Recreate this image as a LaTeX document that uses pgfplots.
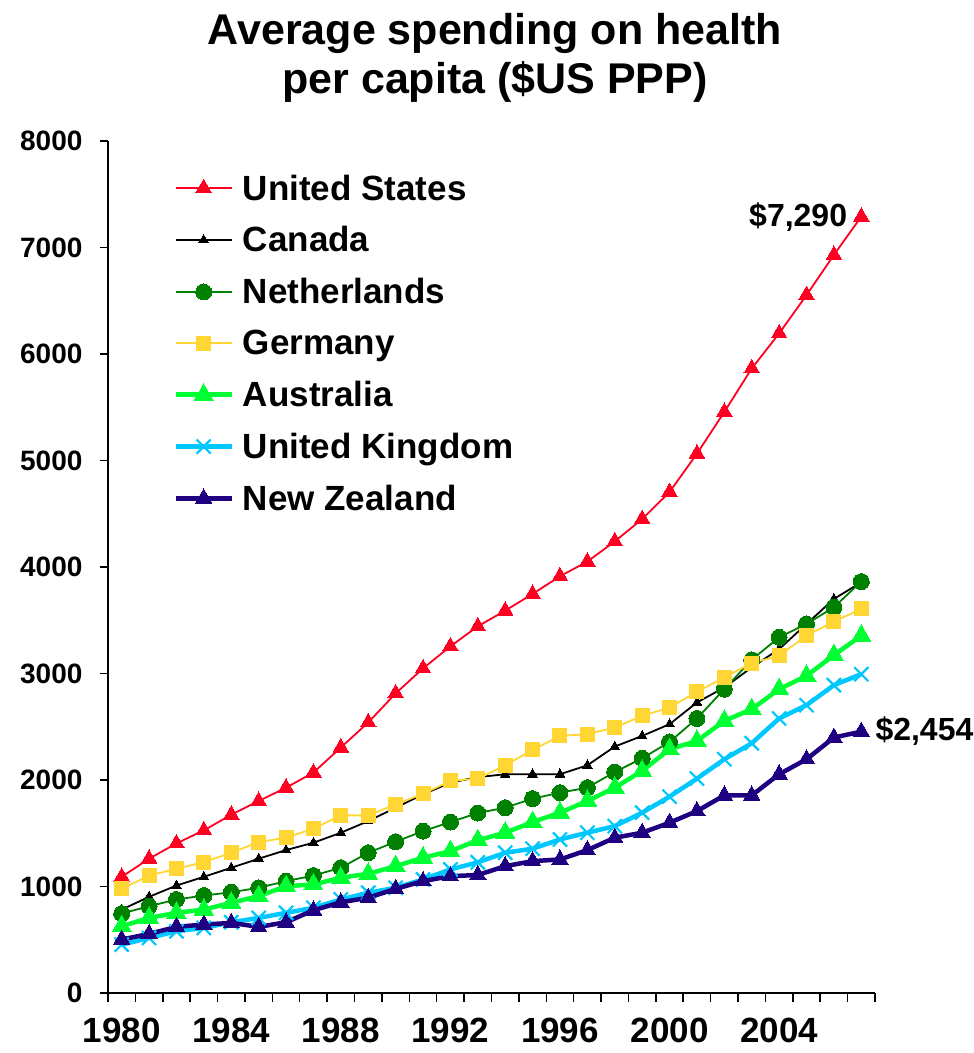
\documentclass[border=0pt]{standalone}
\usepackage{fontspec}
\setmainfont{Liberation Sans}
\usepackage{pgfplots}
\usepackage{pgfplotstable}
\pgfplotsset{compat=1.18}
\definecolor{usred}{RGB}{255,0,34}
\definecolor{nlgreen}{RGB}{0,128,0}
\definecolor{deyellow}{RGB}{255,214,51}
\definecolor{augreen}{RGB}{0,255,51}
\definecolor{ukblue}{RGB}{0,200,255}
\definecolor{nznavy}{RGB}{30,0,128}
\pgfplotstableread{
year us ca nl de au uk nz
1980 1091 783 746 978 627 454 502
1981 1261 903 815 1103 705 517 555
1982 1405 1009 878 1166 753 580 621
1983 1527 1091 915 1229 783 611 643
1984 1674 1176 946 1317 847 664 658
1985 1803 1261 988 1417 909 705 621
1986 1928 1342 1050 1458 1003 753 664
1987 2070 1411 1103 1543 1019 800 777
1988 2305 1505 1176 1668 1082 878 852
1989 2540 1614 1317 1668 1119 941 894
1990 2813 1740 1420 1771 1191 988 978
1991 3048 1865 1520 1870 1270 1066 1050
1992 3255 1975 1605 1991 1332 1160 1097
1993 3443 2027 1690 2013 1434 1227 1108
1994 3590 2054 1740 2138 1505 1317 1191
1995 3747 2054 1825 2282 1605 1355 1238
1996 3913 2054 1881 2414 1693 1442 1254
1997 4051 2138 1928 2430 1803 1505 1342
1998 4240 2314 2075 2493 1928 1567 1458
1999 4450 2414 2204 2602 2085 1693 1505
2000 4704 2524 2357 2681 2289 1844 1599
2001 5064 2728 2578 2828 2367 2013 1708
2002 5456 2869 2853 2963 2555 2195 1856
2003 5864 3057 3129 3098 2665 2345 1856
2004 6193 3229 3340 3167 2853 2578 2054
2005 6553 3465 3465 3355 2978 2703 2195
2006 6930 3700 3622 3487 3173 2891 2399
2007 7290 3857 3863 3606 3355 2994 2454
}\data
\begin{document}
\begin{tikzpicture}[x=1pt,y=1pt]
\path[use as bounding box] (-108,-60) rectangle (866,993);
\begin{axis}[
  at={(0,0)}, anchor=south west,
  width=767pt, height=852pt, scale only axis,
  xmin=1979.5, xmax=2007.5, ymin=0, ymax=8000,
  clip=false,
  axis x line*=bottom, axis y line*=left,
  axis line style={line width=2pt,-},
  xtick={1980,1984,...,2004},
  minor xtick={1979.5,1980.5,...,2007.6},
  ytick={0,1000,...,8000},
  tick align=outside,
  major tick length=8pt, minor tick length=9pt,
  major x tick style={draw=none},
  minor x tick style={line width=1.5pt,black},
  ytick style={line width=1.5pt,black},
  scaled ticks=false,
  /pgf/number format/1000 sep={},
  /pgf/number format/assume math mode=true,
  yticklabel style={font=\fontsize{28}{28}\selectfont\bfseries, xshift=-14pt},
  xticklabel style={font=\fontsize{35}{35}\selectfont\bfseries, yshift=-14pt},
  legend style={draw=none, fill=none, at={(axis description cs:0.085,0.963)}, anchor=north west,
    font=\fontsize{35}{35}\selectfont\bfseries, row sep=21pt, inner sep=0pt,
    /tikz/every odd column/.append style={column sep=7pt}},
  legend cell align=left,
  legend image code/.code={\draw[mark repeat=2,mark phase=2,#1] plot coordinates {(0pt,0pt) (28pt,0pt) (56pt,0pt)};},
]
\addplot[usred, line width=1.8pt, mark=triangle*, mark size=9pt, mark options={solid,fill=usred,draw=usred,line width=0pt}] table[x=year,y=us] {\data};
\addlegendentry{United States}
\addplot[black, line width=1.8pt, mark=triangle*, mark size=5.5pt, mark options={solid,fill=black,line width=0pt}] table[x=year,y=ca] {\data};
\addlegendentry{Canada}
\addplot[nlgreen, line width=1.8pt, mark=*, mark size=8pt, mark options={solid,fill=nlgreen,draw=nlgreen,line width=0pt}] table[x=year,y=nl] {\data};
\addlegendentry{Netherlands}
\addplot[deyellow, line width=1.8pt, mark=square*, mark size=7pt, mark options={solid,fill=deyellow,draw=deyellow,line width=0pt}] table[x=year,y=de] {\data};
\addlegendentry{Germany}
\addplot[augreen, line width=4.5pt, mark=triangle*, mark size=11pt, mark options={solid,fill=augreen,draw=augreen,line width=0pt}] table[x=year,y=au] {\data};
\addlegendentry{Australia}
\addplot[ukblue, line width=4.5pt, mark=x, mark size=10pt, mark options={solid,draw=ukblue,line width=2.2pt}] table[x=year,y=uk] {\data};
\addlegendentry{United Kingdom}
\addplot[nznavy, line width=4.5pt, mark=triangle*, mark size=9.5pt, mark options={solid,fill=nznavy,draw=nznavy,line width=0pt}] table[x=year,y=nz] {\data};
\addlegendentry{New Zealand}
\node[anchor=east, font=\fontsize{32}{32}\selectfont\bfseries, inner sep=0pt] at (axis cs:2007,7290) [xshift=-14pt, yshift=0pt] {\$7,290};
\node[anchor=west, font=\fontsize{32}{32}\selectfont\bfseries, inner sep=0pt] at (axis cs:2007,2454) [xshift=14pt, yshift=1pt] {\$2,454};
\end{axis}
\node[align=center, font=\fontsize{43}{49}\selectfont\bfseries] at (387,935) {Average spending on health\\per capita (\$US PPP)};
\end{tikzpicture}
\end{document}
